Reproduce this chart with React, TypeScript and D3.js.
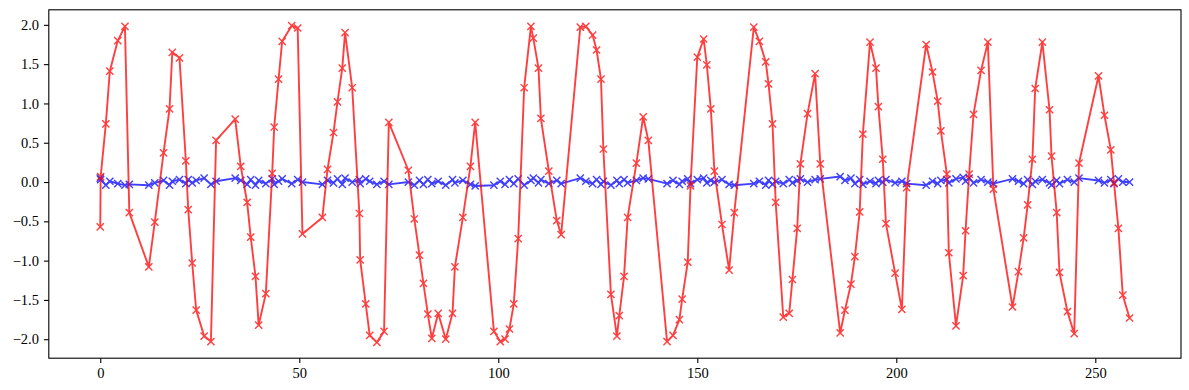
import React, { useEffect, useRef } from "react";
import * as d3 from "d3";

// sample positions (shared by both series)
const xs = [
  0.0, 0.1, 1.4, 2.4, 4.4, 6.2, 7.3,
  12.2, 13.7, 15.9, 17.4, 18.1, 19.9, 21.5, 22.1, 23.1, 24.1, 26.1, 27.8, 29.1,
  33.9, 35.3, 36.9, 37.8, 39.0, 39.8, 41.6, 43.2, 43.7, 44.8, 45.7, 48.1, 49.6, 50.8,
  55.8, 57.1, 58.6, 59.6, 60.8, 61.5, 63.3, 65.1, 65.3, 66.7, 67.7, 69.5, 71.3, 72.5,
  77.4, 78.9, 80.2, 81.2, 82.3, 83.3, 84.9, 86.8, 88.5, 89.1, 91.1, 93.0, 94.2,
  98.9, 100.5, 101.7, 102.8, 103.9, 105.0, 106.5, 108.2, 108.8, 110.1, 110.7, 112.7, 114.7, 115.8,
  120.6, 122.0, 123.7, 124.7, 125.8, 126.4, 128.3, 129.8, 130.4, 131.6, 132.5, 134.7, 136.4, 137.7,
  142.4, 143.9, 145.5, 146.2, 147.6, 148.3, 150.0, 151.6, 152.4, 153.4, 154.3, 156.2, 158.0, 159.3,
  164.2, 165.6, 167.2, 167.9, 168.9, 169.7, 171.6, 173.1, 173.9, 175.1, 175.9, 177.7, 179.6, 180.9,
  185.9, 187.1, 188.6, 189.6, 190.8, 191.6, 193.4, 194.9, 195.5, 196.6, 197.4, 199.7, 201.4, 202.6,
  207.5, 209.1, 210.4, 211.2, 212.7, 213.2, 215.0, 216.8, 217.4, 218.3, 219.4, 221.3, 223.0, 224.4,
  229.2, 230.7, 232.0, 233.0, 234.2, 234.9, 236.7, 238.5, 239.0, 240.3, 241.0, 243.0, 244.7, 245.9,
  250.8, 252.3, 253.9, 254.7, 255.8, 256.9, 258.6,
];

const redVals = [
  -0.57, 0.07, 0.74, 1.41, 1.80, 1.98, -0.39,
  -1.08, -0.51, 0.37, 0.93, 1.65, 1.58, 0.27, -0.35, -1.03, -1.63, -1.96, -2.03, 0.53,
  0.80, 0.20, -0.26, -0.70, -1.20, -1.82, -1.42, 0.11, 0.70, 1.31, 1.79, 1.99, 1.96, -0.66,
  -0.45, 0.16, 0.63, 1.02, 1.45, 1.90, 1.20, -0.40, -0.99, -1.55, -1.95, -2.04, -1.90, 0.76,
  0.15, -0.47, -0.93, -1.29, -1.68, -1.99, -1.67, -2.00, -1.67, -1.08, -0.45, 0.20, 0.76,
  -1.90, -2.03, -2.00, -1.87, -1.55, -0.72, 1.20, 1.98, 1.83, 1.45, 0.81, 0.14, -0.49, -0.67,
  1.97, 1.98, 1.87, 1.68, 1.31, 0.42, -1.43, -1.96, -1.70, -1.20, -0.45, 0.24, 0.83, 0.53,
  -2.03, -1.95, -1.75, -1.49, -1.02, -0.05, 1.59, 1.82, 1.49, 0.93, 0.14, -0.54, -1.12, -0.39,
  1.97, 1.79, 1.53, 1.25, 0.74, -0.26, -1.72, -1.67, -1.24, -0.59, 0.23, 0.87, 1.38, 0.23,
  -1.92, -1.63, -1.30, -0.95, -0.38, 0.61, 1.78, 1.45, 0.96, 0.29, -0.53, -1.16, -1.62, -0.07,
  1.75, 1.40, 1.03, 0.65, 0.10, -0.90, -1.83, -1.19, -0.62, 0.10, 0.86, 1.42, 1.78, -0.09,
  -1.59, -1.14, -0.71, -0.29, 0.29, 1.19, 1.78, 0.92, 0.33, -0.39, -1.15, -1.65, -1.93, 0.24,
  1.35, 0.85, 0.41, -0.01, -0.59, -1.44, -1.73,
];

const blueVals = [
  0.05, 0.03, -0.04, 0.01, -0.02, -0.04, -0.03,
  -0.04, -0.01, 0.02, -0.04, 0.01, 0.03, -0.02, 0.03, -0.01, 0.02, 0.05, -0.03, 0.01,
  0.05, 0.02, -0.03, 0.03, -0.04, 0.02, -0.02, 0.04, -0.03, 0.01, 0.04, -0.02, 0.03, 0.0,
  -0.03, 0.02, -0.01, 0.04, -0.03, 0.05, 0.0, 0.03, -0.02, 0.04, 0.01, -0.03, 0.01, -0.03,
  0.0, -0.04, 0.02, -0.03, 0.03, -0.02, 0.01, -0.04, 0.03, -0.01, 0.02, -0.03, -0.05,
  -0.04, 0.01, -0.03, 0.03, -0.02, 0.04, -0.04, 0.02, 0.05, -0.01, 0.03, -0.02, 0.02, -0.02,
  0.05, 0.01, -0.02, 0.03, -0.03, 0.01, -0.04, 0.02, -0.02, 0.03, -0.01, 0.02, 0.05, 0.04,
  -0.02, 0.02, -0.03, 0.01, 0.04, -0.02, 0.03, 0.05, -0.01, 0.02, 0.0, 0.03, -0.03, -0.04,
  -0.02, 0.01, -0.04, 0.02, -0.03, 0.01, -0.02, 0.03, -0.01, 0.02, 0.04, 0.0, 0.03, 0.04,
  0.07, 0.02, 0.05, -0.02, 0.03, -0.03, 0.01, -0.02, 0.02, 0.0, 0.03, -0.01, 0.01, -0.02,
  -0.04, 0.01, -0.02, 0.02, 0.03, -0.01, 0.04, 0.06, 0.01, 0.05, -0.01, 0.03, 0.0, -0.02,
  0.04, 0.01, -0.02, 0.03, -0.03, 0.01, 0.03, -0.01, -0.04, 0.02, -0.02, 0.03, 0.0, 0.05,
  0.02, -0.01, 0.03, -0.02, 0.04, 0.0, 0.0,
];

const xTicks = [0, 50, 100, 150, 200, 250];
const yTicks = [-2.0, -1.5, -1.0, -0.5, 0.0, 0.5, 1.0, 1.5, 2.0];

const W = 1189, H = 390;
const left = 48.8, right = 1181, top = 9.8, bottom = 358.2;
const font = "'Liberation Serif', 'DejaVu Serif', serif";

function pad(ext: [number, number]): [number, number] {
  const m = (ext[1] - ext[0]) * 0.05;
  return [ext[0] - m, ext[1] + m];
}

export default function App() {
  const ref = useRef<SVGSVGElement>(null);

  useEffect(() => {
    const svg = d3.select(ref.current);
    svg.selectAll("*").remove();

    const allY = redVals.concat(blueVals);
    const x = d3.scaleLinear().domain(pad(d3.extent(xs) as [number, number])).range([left, right]);
    const y = d3.scaleLinear().domain(pad(d3.extent(allY) as [number, number])).range([bottom, top]);

    const fmt = (v: number) => v.toFixed(1).replace("-", "\u2212");

    // axes
    const xAxis = svg.append("g").attr("transform", `translate(0,${bottom})`)
      .call(d3.axisBottom(x).tickValues(xTicks).tickSize(4.9).tickPadding(4.9).tickFormat(d3.format("d")));
    const yAxis = svg.append("g").attr("transform", `translate(${left},0)`)
      .call(d3.axisLeft(y).tickValues(yTicks).tickSize(4.9).tickPadding(4.9).tickFormat((d) => fmt(+d)));
    [xAxis, yAxis].forEach((g) => {
      g.select(".domain").remove();
      g.selectAll("line").attr("stroke", "#000").attr("stroke-width", 1.1);
      g.selectAll("text").attr("font-family", font).attr("font-size", 14.5).attr("fill", "#000");
    });

    const series = [
      { vals: blueVals, color: "#0000ff" },
      { vals: redVals, color: "#ff0000" },
    ];

    const line = d3.line<number>().x((_, i) => x(xs[i])).y((d) => y(d));
    const s = 3.6;

    series.forEach((ser) => {
      const g = svg.append("g").attr("opacity", 0.75);
      g.append("path")
        .datum(ser.vals)
        .attr("d", line)
        .attr("fill", "none")
        .attr("stroke", ser.color)
        .attr("stroke-width", 1.9)
        .attr("stroke-linejoin", "round");
      g.selectAll("path.mk")
        .data(ser.vals)
        .join("path")
        .attr("class", "mk")
        .attr("d", (d, i) => {
          const cx = x(xs[i]), cy = y(d);
          return `M${cx - s},${cy - s}L${cx + s},${cy + s}M${cx - s},${cy + s}L${cx + s},${cy - s}`;
        })
        .attr("stroke", ser.color)
        .attr("stroke-width", 1.4)
        .attr("fill", "none");
    });

    // frame
    svg.append("rect")
      .attr("x", left).attr("y", top)
      .attr("width", right - left).attr("height", bottom - top)
      .attr("fill", "none").attr("stroke", "#000").attr("stroke-width", 1.1);
  }, []);

  return (
    <svg
      ref={ref}
      width={W}
      height={H}
      style={{ position: "absolute", left: 0, top: 0, background: "#fff" }}
    />
  );
}
